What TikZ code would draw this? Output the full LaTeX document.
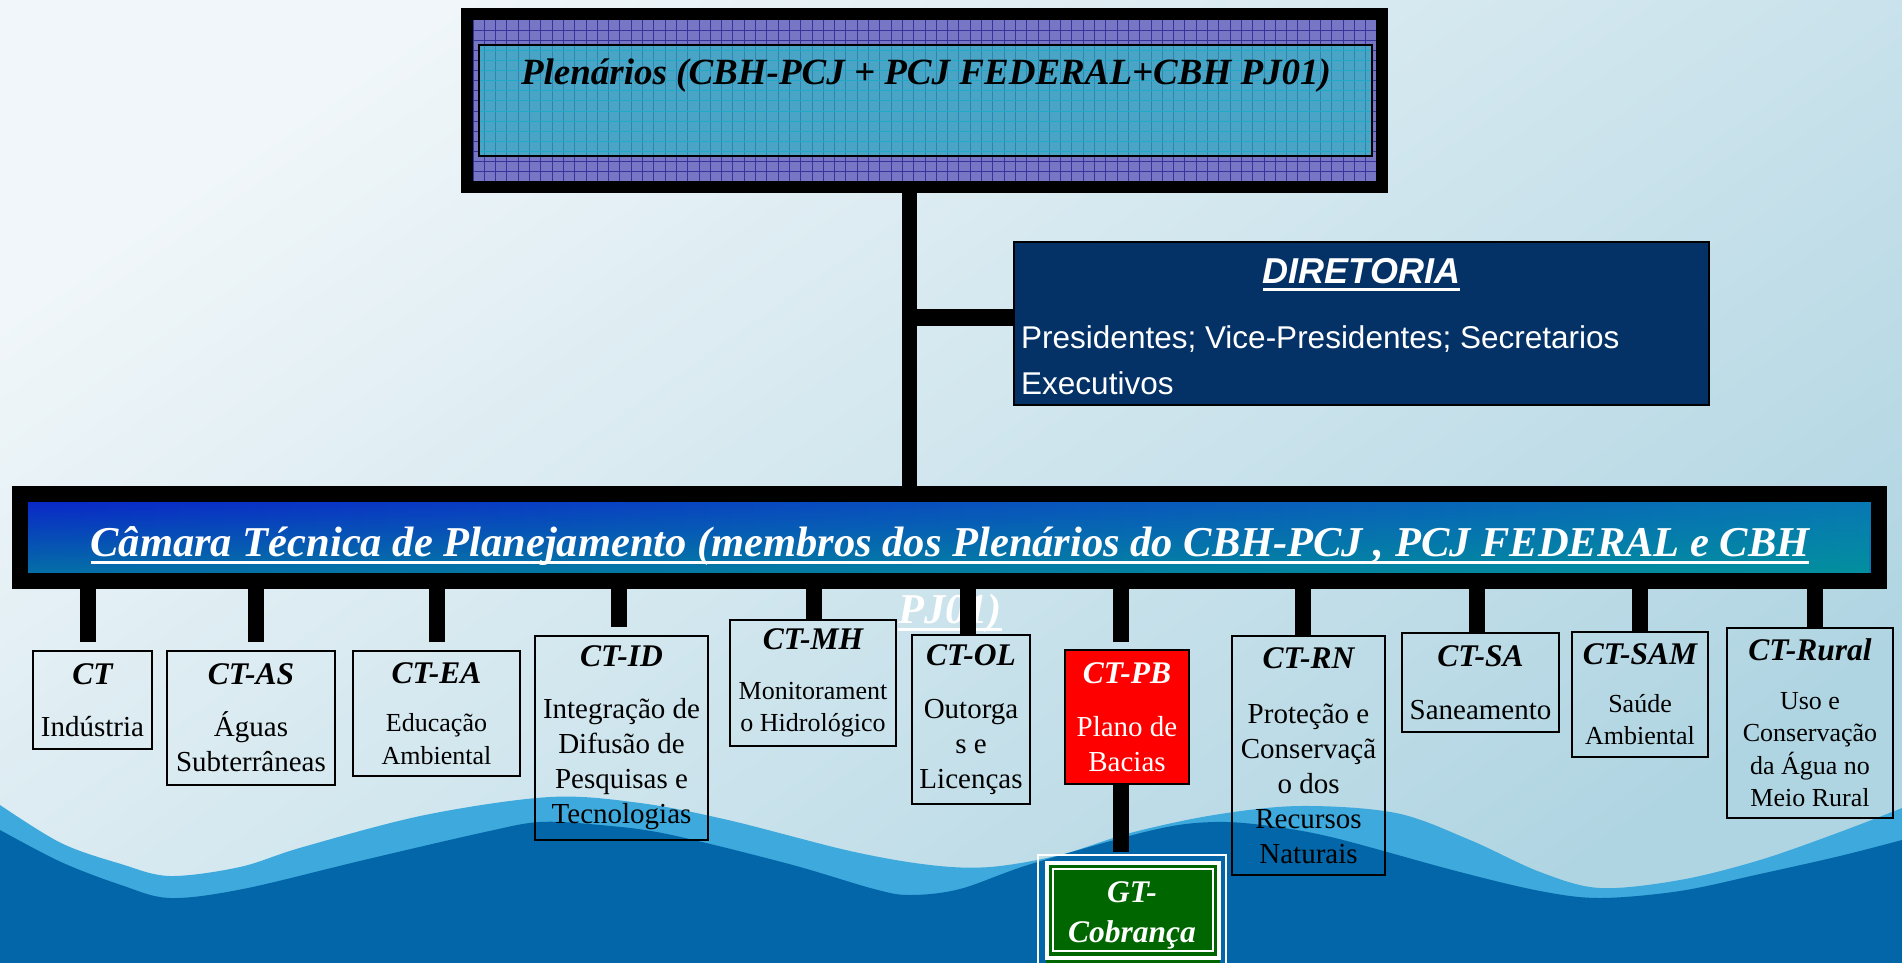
\documentclass[tikz,border=0pt]{standalone}
\usepackage{fontspec}
\setmainfont{Liberation Serif}
\newfontfamily\arialf{Liberation Sans}
\usetikzlibrary{fadings}
\definecolor{bgA}{RGB}{240,246,249}
\definecolor{bgB}{RGB}{176,213,226}
\definecolor{waveL}{RGB}{61,169,220}
\definecolor{waveD}{RGB}{3,102,168}
\definecolor{plenP}{RGB}{118,118,196}
\definecolor{plenPg}{RGB}{52,52,154}
\definecolor{plenT}{RGB}{74,164,198}
\definecolor{plenTg}{RGB}{44,134,176}
\definecolor{camA}{RGB}{10,40,200}
\definecolor{camB}{RGB}{8,120,180}
\definecolor{camT}{RGB}{0,160,144}
\definecolor{dirfill}{RGB}{4,50,102}
\definecolor{pbred}{RGB}{255,0,0}
\definecolor{gtgreen}{RGB}{0,102,0}
\tikzfading[name=fadeupx, top color=transparent!100, bottom color=transparent!0]
\newcommand\ulx[1]{\setbox0\hbox{#1}\rlap{\rule[-7.5pt]{\wd0}{3pt}}\box0}
\newcommand\bodyA{\fontsize{29}{35}\selectfont}
\newcommand\bodyB{\fontsize{26}{32.5}\selectfont}
\newcommand\ttl{\bfseries\itshape\fontsize{31.5}{35}\selectfont}
\begin{document}
\begin{tikzpicture}[x=1pt,y=-1pt,
  conn/.style={draw=black, line width=16},
  ctbox/.style={draw=black, line width=2, inner sep=0pt, align=center, font=\bodyA},
  ctboxb/.style={ctbox, font=\bodyB}]
\clip (0,0) rectangle (1902,963);
% background
\shade[top color=bgA, bottom color=bgB, shading angle=35] (0,0) rectangle (1902,963);
% waves
\fill[waveL] plot[smooth, tension=0.55] coordinates {(0,805) (61,843) (121,864) (170,876) (240,867) (303,847) (425,815) (550,797) (640,803) (728,820) (850,851) (930,865) (990,867) (1060,855) (1130,833) (1214,815) (1300,806) (1396,813) (1470,840) (1540,872) (1600,888) (1680,880) (1760,860) (1840,832) (1902,808)} -- (1902,963) -- (0,963) -- cycle;
\fill[waveD] plot[smooth, tension=0.55] coordinates {(0,830) (61,862) (121,885) (170,898) (243,889) (364,860) (485,832) (540,822) (600,825) (667,834) (789,864) (874,889) (910,895) (960,889) (1031,864) (1153,830) (1214,822) (1270,826) (1335,838) (1456,871) (1540,891) (1600,898) (1680,891) (1760,874) (1840,856) (1902,840)} -- (1902,963) -- (0,963) -- cycle;
% Plenarios pattern
\fill[plenP] (473,20) rectangle (1377,182);
\foreach \i in {0,...,80} {\draw[plenPg, line width=1] ({473+\i*11.3},20) -- ({473+\i*11.3},182);}
\foreach \j in {0,...,16} {\draw[plenPg, line width=1] (473,{20+\j*10.125}) -- (1377,{20+\j*10.125});}
\begin{scope}
\clip (479,45) rectangle (1372,156);
\fill[plenT] (479,45) rectangle (1372,156);
\foreach \i in {0,...,80} {\draw[plenTg, line width=1] ({473+\i*11.3},20) -- ({473+\i*11.3},182);}
\foreach \j in {0,...,16} {\draw[plenTg!70!cyan, line width=1] (473,{20+\j*10.125}) -- (1377,{20+\j*10.125});}
\end{scope}
\node[draw=black, line width=12, minimum width=915, minimum height=173, inner sep=0pt] (plen) at (924.5,100.5) {};
\node[draw=black, line width=2, minimum width=893, minimum height=111, inner sep=0pt] (pleninner) at (925.5,100.5) {};
\node[anchor=base, inner sep=0pt, font=\bfseries\itshape\fontsize{37}{40}\selectfont] (plentxt) at (926,85) {Plenários (CBH-PCJ + PCJ FEDERAL+CBH PJ01)};
% Diretoria
\node[draw=black, line width=2, fill=dirfill, minimum width=695, minimum height=163, inner sep=0pt] (dir) at (1361.5,323.5) {};
\node[anchor=base, inner sep=0pt, text=white, font=\arialf\bfseries\itshape\fontsize{36}{40}\selectfont] (dirtitle) at (1361.5,283) {\ulx{DIRETORIA}};
\node[anchor=north west, inner sep=0pt, align=left, text=white, font=\arialf\fontsize{31.5}{46}\selectfont] (dirbody) at (1021,325) {Presidentes; Vice-Presidentes; Secretarios\\Executivos};
% Camara
\path[left color=camA, right color=camB] (28,502) rectangle (1871,573);
\fill[camT, path fading=fadeupx, fill opacity=0.6] (28,502) rectangle (1871,573);
\node[draw=black, line width=16, minimum width=1859, minimum height=87, inner sep=0pt] (cam) at (949.5,537.5) {};
\node[anchor=center, inner sep=0pt, align=center, text=white, font=\bfseries\itshape\fontsize{42.5}{67}\selectfont] (camtxt) at (950,580) {\ulx{Câmara Técnica de Planejamento (membros dos Plenários do CBH-PCJ , PCJ FEDERAL e CBH}\\\ulx{PJ01)}};
% trunk
\coordinate (tk) at (909,317);
\draw[conn, line width=15] (plen.south -| tk) -- (cam.north -| tk);
\draw[conn, line width=17] (tk) -- (tk -| dir.west);
% CT boxes
\node[ctbox, minimum width=119, minimum height=98] (ct) at (92.5,700) {{\ttl CT}\\[17pt]Indústria};
\node[ctbox, minimum width=168, minimum height=134] (ctas) at (251,718) {{\ttl CT-AS}\\[17pt]Águas\\Subterrâneas};
\node[ctboxb, minimum width=167, minimum height=125] (ctea) at (436.5,713.5) {{\ttl CT-EA}\\[16pt]Educação\\Ambiental};
\node[ctbox, minimum width=173, minimum height=204] (ctid) at (621.5,738) {{\ttl CT-ID}\\[17pt]Integração de\\Difusão de\\Pesquisas e\\Tecnologias};
\node[ctboxb, minimum width=166, minimum height=126] (ctmh) at (813,683) {{\ttl CT-MH}\\[17pt]Monitorament\\o Hidrológico};
\node[ctbox, minimum width=118, minimum height=169] (ctol) at (971,719.5) {{\ttl CT-OL}\\[18pt]Outorga\\s e\\Licenças};
\node[ctbox, fill=pbred, text=white, minimum width=124, minimum height=134] (ctpb) at (1127,717) {{\ttl CT-PB}\\[18pt]Plano de\\Bacias};
\node[ctbox, minimum width=153, minimum height=239] (ctrn) at (1308.5,755.5) {{\ttl CT-RN}\\[20pt]Proteção e\\Conservaçã\\o dos\\Recursos\\Naturais};
\node[ctbox, minimum width=157, minimum height=99] (ctsa) at (1480.5,682.5) {{\ttl CT-SA}\\[18pt]Saneamento};
\node[ctboxb, minimum width=136, minimum height=125] (ctsam) at (1640,694.5) {{\ttl CT-SAM}\\[15pt]Saúde\\Ambiental};
\node[ctboxb, minimum width=166, minimum height=190] (ctrural) at (1810,723) {{\ttl CT-Rural}\\[16pt]Uso e\\Conservação\\da Água no\\Meio Rural};
% connectors from Camara
\foreach \b/\g/\dx in {ct/8/-4.5, ctas/8/5, ctea/8/0.5, ctid/8/-2.5, ctmh/0/1, ctol/0/-3, ctpb/7/-6, ctrn/0/-5.5, ctsa/0/-3.5, ctsam/0/0, ctrural/0/5}
  {\draw[conn, shorten >=\g] ([xshift=\dx]cam.south -| \b.north) -- ([xshift=\dx]\b.north);}
% GT box
\fill[gtgreen] (1046,862) rectangle (1220,975);
\draw[white, line width=4] (1047,863) rectangle (1219,958);
\draw[white, line width=2] (1053,869) rectangle (1213,951);
\node[draw=white, line width=2.5, minimum width=188, minimum height=120, inner sep=0pt, align=center, text=white, font=\bfseries\itshape\fontsize{31.5}{40}\selectfont] (gt) at (1132,915) {GT-\\Cobrança};
\draw[conn, shorten >=2] ([xshift=-6]ctpb.south) -- ([xshift=-6]ctpb.south |- gt.north);
\end{tikzpicture}
\end{document}
